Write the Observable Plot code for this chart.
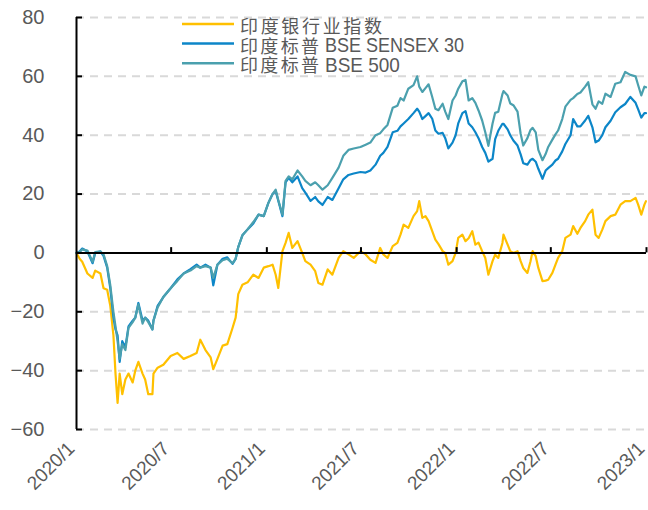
<!DOCTYPE html>
<html>
<head>
<meta charset="utf-8">
<script src="https://cdn.jsdelivr.net/npm/d3@7"></script>
<script src="https://cdn.jsdelivr.net/npm/@observablehq/plot@0.6"></script>
<style>
  html, body { margin: 0; padding: 0; background: #ffffff; }
  #wrap { position: relative; width: 648px; height: 510px; }
  #legend { position: absolute; left: 0; top: 0; pointer-events: none; }
</style>
</head>
<body>
<div id="wrap"></div>
<script>
const seriesNames = ["印度银行业指数", "印度标普BSE SENSEX 30", "印度标普BSE 500"];
const seriesColors = ["#FFC000", "#0C86C8", "#4BA0AE"];

const dates = [
"2020-01-01","2020-01-07","2020-01-12","2020-01-22","2020-02-01","2020-02-06","2020-02-16","2020-02-22","2020-02-29","2020-03-06",
"2020-03-12","2020-03-16","2020-03-20","2020-03-24","2020-03-29","2020-04-04","2020-04-10","2020-04-18","2020-04-23","2020-04-29",
"2020-05-07","2020-05-12","2020-05-18","2020-05-26","2020-05-28","2020-06-05","2020-06-16","2020-06-30","2020-07-13","2020-07-25",
"2020-08-07","2020-08-19","2020-08-26","2020-09-05","2020-09-15","2020-09-20","2020-09-28","2020-10-08","2020-10-17","2020-10-27",
"2020-11-02","2020-11-07","2020-11-15","2020-11-25","2020-12-06","2020-12-16","2020-12-26","2021-01-04","2021-01-12","2021-01-18",
"2021-01-23","2021-01-31","2021-02-06","2021-02-12","2021-02-19","2021-03-01","2021-03-10","2021-03-16","2021-03-26","2021-04-04",
"2021-04-10","2021-04-18","2021-04-28","2021-05-07","2021-05-19","2021-05-28","2021-06-07","2021-06-17","2021-06-30","2021-07-10",
"2021-07-19","2021-07-29","2021-08-07","2021-08-13","2021-08-21","2021-08-31","2021-09-09","2021-09-15","2021-09-21","2021-09-30",
"2021-10-10","2021-10-17","2021-10-21","2021-10-27","2021-11-02","2021-11-08","2021-11-15","2021-11-21","2021-11-27","2021-12-05",
"2021-12-10","2021-12-16","2021-12-24","2021-12-30","2022-01-04","2022-01-12","2022-01-18","2022-01-24","2022-01-31","2022-02-06",
"2022-02-12","2022-02-19","2022-02-25","2022-03-03","2022-03-11","2022-03-16","2022-03-22","2022-03-30","2022-04-01","2022-04-09",
"2022-04-14","2022-04-20","2022-04-28","2022-05-04","2022-05-09","2022-05-17","2022-05-23","2022-05-27","2022-06-02","2022-06-07",
"2022-06-15","2022-06-21","2022-06-26","2022-07-04","2022-07-10","2022-07-15","2022-07-23","2022-07-29","2022-08-08","2022-08-13",
"2022-08-21","2022-08-27","2022-09-05","2022-09-11","2022-09-19","2022-09-25","2022-10-01","2022-10-08","2022-10-14","2022-10-24",
"2022-11-02","2022-11-12","2022-11-21","2022-12-01","2022-12-11","2022-12-16","2022-12-22","2022-12-28","2022-12-31"
];

const bankIndex = [
0,-2,-3,-7,-8.5,-6,-7,-12,-12.5,-18,
-28,-41,-51,-41,-48,-43,-41,-44,-40,-37,
-41,-43,-48,-48,-41,-39,-38,-35,-34,-36,
-35,-34,-29.5,-33,-35.5,-39.5,-36,-31.5,-31,-25.5,
-22,-14,-10.8,-10,-7.4,-8.5,-5,-4.5,-4,-7.4,
-11.9,0.6,3.4,6.8,1.7,4,0,-2.8,-4,-6.2,
-10.2,-10.8,-5.6,-7.4,-1.7,0.6,-0.5,-1.7,0.6,-0.5,
-2.3,-3.4,1.7,-0.5,-1.7,2.3,3.4,6.2,9.6,8.5,
12.5,14.2,17.6,11.9,12.5,10.8,7.4,4.5,3,0.6,
0,-4,-2.8,0,5.1,6.2,4,5,7.4,2.8,
3.5,0.6,-1.7,-7.4,-2.8,-0.6,-1.7,3.4,6.2,2.8,
0.6,0,0.6,-2.8,-5.1,-6.8,-2.8,0.6,-1.1,-5.1,
-9.6,-9.4,-9.1,-6.8,-4,-1.7,0.6,5.1,6.2,9.1,
6.5,8.5,10.8,13,14.7,6.2,5.1,7.9,10.8,12.5,
13,16.4,17.6,17.6,18.7,16.4,13,16.4,17.6
];

const sensex30 = [
0,0.5,1.5,0.5,-3.5,0,0.5,-1,-5,-12,
-22,-26,-28,-37,-30,-32,-25,-23,-22,-17,
-23,-22,-23,-26,-23,-18,-15,-12,-9,-7,
-5.5,-4,-5,-4,-5,-11,-4,-2,-1.5,-3.7,
-2,2,6,8,10,13,12.5,17,20,21,
17.7,12.5,24,25.5,24,26,22,20.5,17.7,19,
17.5,16.3,19,18,22,25,26.5,27,27.5,27.3,
28,30,33,34,36,41,41.5,43,44,45.5,
47.5,49,48,45.5,46.5,47.5,45.6,41.6,40.5,40.8,
39,35.5,37.5,40,44,47.5,48.2,44,42.7,41,
39,36,34,31,32,38.7,41.5,43.9,43.9,42,
40,38.2,36.5,33.5,30.5,30,31.6,32,31,28.6,
25.2,28,28.8,30,31.4,32,34.5,37,40,45.5,
43,43,45,46.6,42.7,37.6,38.2,40,42.7,44.9,
47.8,49.5,50.6,53,51,48.8,46,47.5,47.5
];

const bse500 = [
0,0.3,1.2,0.8,-3,0.3,0.5,-0.5,-4.5,-11,
-20,-25,-30,-36,-31,-33,-25.5,-23.5,-22,-17.5,
-24,-22,-23.5,-26,-23,-18.5,-15,-12,-9.5,-7,
-6,-4.5,-5,-4.5,-5,-8.5,-4,-2.5,-2,-3.5,
-2,2,6,8,10.5,13,12.5,17,20,21.5,
18,13,24.5,26,25,28,26,24.5,23,24,
23,21.5,23,25.5,29,33,35,35.5,36,36.8,
37.5,40,40.7,42,43.5,49.3,50,52.6,51.8,55.8,
57,60,56.5,54.7,56,57.3,53,49,48.5,50.7,
48,45.5,51.8,53.5,55.8,58.3,58.8,51.8,52.6,51,
48.4,45,41,36.4,44,47.6,48,54,55,53.5,
50.8,50.2,48,40.5,36.5,39,41.8,42.5,41,35,
31.5,33.6,36,38.5,40.3,41.6,45.5,49.7,52,52.6,
54,54.5,56.5,58,50.5,49,51.5,50.7,54.1,53,
57.5,58,61.5,60.5,60,57,53.5,56.5,56.3
];

const xTickLabels = ["2020/1", "2020/7", "2021/1", "2021/7", "2022/1", "2022/7", "2023/1"];
const yTicks = [-60, -40, -20, 0, 20, 40, 60, 80];

// ---- build ----
const parseLabel = s => { const [y, m] = s.split("/").map(Number); return new Date(Date.UTC(y, m - 1, 1)); };
const xTickDates = xTickLabels.map(parseLabel);
const allSeries = [bankIndex, sensex30, bse500];
const rows = [];
allSeries.forEach((vals, si) => {
  vals.forEach((v, i) => rows.push({date: new Date(dates[i] + "T00:00:00Z"), value: v, series: seriesNames[si]}));
});

const fmtY = d => d < 0 ? "\u2212" + Math.abs(d) : String(d);
const fmtX = d => `${d.getUTCFullYear()}/${d.getUTCMonth() + 1}`;

const chart = Plot.plot({
  width: 648,
  height: 510,
  marginLeft: 76,
  marginRight: 2,
  marginTop: 17,
  marginBottom: 81,
  x: {type: "utc", domain: [xTickDates[0], xTickDates[xTickDates.length - 1]], label: null},
  y: {domain: [-60, 80], label: null},
  style: {fontFamily: "'Liberation Sans', Arial, sans-serif", fontSize: "20px", color: "#595959", background: "#ffffff"},
  marks: [
    Plot.gridY(yTicks.filter(d => d !== 0), {stroke: "#d9d9d9", strokeOpacity: 1, strokeWidth: 2, strokeDasharray: "8,6"}),
    Plot.axisY(yTicks, {label: null, tickSize: 0, tickPadding: 32, tickFormat: fmtY, fontSize: 20, fill: "#595959"}),
    Plot.axisX(xTickDates, {label: null, anchor: "bottom", tickSize: 0, tickPadding: 16, dx: -5, tickRotate: -45, tickFormat: fmtX, fontSize: 19, fill: "#595959"}),
    ...seriesNames.map((name, i) =>
      Plot.line(rows.filter(r => r.series === name), {x: "date", y: "value", stroke: seriesColors[i], strokeWidth: 2.2})
    ),
    Plot.ruleY([0], {stroke: "#000000", strokeWidth: 2}),
    Plot.ruleX([xTickDates[0]], {stroke: "#000000", strokeWidth: 2}),
    Plot.ruleX(xTickDates.slice(1), {y1: 0, y2: 1.8, stroke: "#000000", strokeWidth: 2}),
    Plot.axisY(yTicks, {label: null, tickSize: 6, dx: 6, text: null, stroke: "#000000", strokeWidth: 2, strokeOpacity: 1})
  ]
});

const wrap = document.getElementById("wrap");
wrap.appendChild(chart);

// ---- legend (overlay at top of the plot area) ----
const lg = d3.select(wrap).append("svg")
  .attr("id", "legend")
  .attr("width", 648).attr("height", 90);
seriesNames.forEach((name, i) => {
  const cy = 24 + i * 19.6;
  const g = lg.append("g");
  g.append("line").attr("x1", 182).attr("x2", 234).attr("y1", cy).attr("y2", cy)
    .attr("stroke", seriesColors[i]).attr("stroke-width", 2.5);
  const m = name.match(/^([^\x00-\x7F]+)(.*)$/);
  const cjk = m ? m[1] : name;
  const latin = m ? m[2] : "";
  g.append("text").attr("x", 240).attr("y", cy + 1)
    .attr("dominant-baseline", "central")
    .attr("font-family", "'Noto Sans CJK SC', sans-serif")
    .attr("font-size", 18).attr("fill", "#595959")
    .attr("textLength", cjk.length * 21 - 5).attr("lengthAdjust", "spacing")
    .text(cjk);
  if (latin) {
    g.append("text").attr("x", 240 + cjk.length * 21 + 1).attr("y", cy + 1)
      .attr("dominant-baseline", "central")
      .attr("font-family", "'Liberation Sans', Arial, sans-serif")
      .attr("font-size", 21).attr("fill", "#595959")
      .attr("textLength", latin.length * 10.7).attr("lengthAdjust", "spacingAndGlyphs")
      .text(latin);
  }
});
</script>
</body>
</html>
